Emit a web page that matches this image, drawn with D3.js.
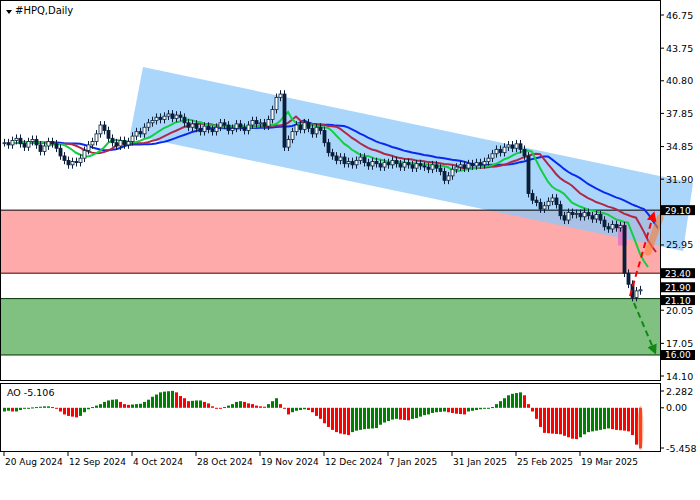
<!DOCTYPE html>
<html><head><meta charset="utf-8">
<script src="https://cdn.jsdelivr.net/npm/d3@7"></script>
<style>body{margin:0;background:#fff}text{font-family:"DejaVu Sans",sans-serif}</style>
</head><body>
<script>
const closes = [35.2,35.0,35.4,35.6,35.1,34.8,35.3,35.5,35.0,34.4,34.9,35.3,35.1,34.7,
  34.0,33.6,33.2,33.5,33.4,33.8, 34.5,35.0,35.3,36.0,36.8,36.3,35.6, 35.2,34.9,35.4,35.0,35.3,
  35.8,36.2,36.0,36.6,37.0, 37.2,37.5,37.3,37.6,37.8,37.4,37.7,37.5, 37.0,36.6,36.9,36.5,36.2,36.7,36.4,
  36.2,36.6,37.0,36.8,36.3,36.5,36.9,36.6, 36.3,36.8,37.2,36.9,37.0,36.7,37.3, 38.2,39.3,39.6, 34.8,35.5,
  36.2,36.8,36.4,37.0,36.5,36.0,36.6,36.3, 35.2,34.3,34.0,33.6,33.9,33.3,
  33.5,33.2,33.6,33.9,33.4,33.1,33.5,33.3,33.0,33.4,33.2,33.6,33.3,33.0,33.4,33.2,32.9,33.3,33.1,
  33.0,32.8,33.2,32.9,32.6,31.8,32.2,32.8,33.0, 33.2,32.9,33.3,33.1,33.4,33.2,33.5,33.8,
  34.2,34.6,34.3,34.8,35.0,34.7,35.1,34.6,34.0, 30.6,30.0,29.8,29.2,29.5,29.9,30.2,29.6,
  28.6,28.2,28.9,28.7,28.8,28.5,28.9,28.6,28.3,28.7,28.2,27.6, 27.4,27.8,27.5,27.7, 23.4, 22.4,21.2,21.8,21.9];
const ao = [-0.5,-0.4,-0.5,-0.5, -0.3,-0.1,-0.05,0.05,0.1,0.15,0.2,0.2, 0.1,-0.1,-0.5,-0.9,-1.1,-1.2,-1.3,
  -1.1,-0.6,-0.2, 0.1,0.3,0.5,0.8,1.0,1.1,1.15, 0.8,0.5,0.4, 0.45,0.5,0.55,0.8,1.1,1.5,1.8,2.1,2.2,2.25,2.3,
  2.1,1.6,1.3,0.9,0.95,1.0,1.0,0.8,0.6,0.2,0.0,-0.1, 0.1,0.3,0.5,0.8,0.9, 0.8,0.6,0.5,0.3,0.2,0.15,
  0.5,0.9,1.3, 0.5,0.0,-0.9, -0.6,-0.4,-0.3,-0.2,-0.3, -0.6,-1.1,-1.5,-2.1,-2.6,-3.0,-3.3,-3.5,-3.6,-3.7,
  -3.3,-3.1,-3.0,-2.9,-2.85,-2.8,-2.75, -2.3,-2.0,-1.8,-1.6,-1.5, -1.6,-1.65,-1.7,
  -1.5,-1.4,-1.2,-1.0,-0.9,-0.7,-0.6,-0.55,-0.5, -0.6,-0.7,-0.8,-0.85,-0.9,
  -0.5,-0.4,-0.3,-0.2,-0.1,0.0,0.1,0.5,0.9,1.3,1.7,1.9,2.0,2.1, 1.7,0.5,
  -0.5,-1.5,-2.6,-3.4,-3.45,-3.5,-3.55,-3.6,-3.8,-4.0,-4.2,-4.25, -4.0,-3.6,-3.3,-3.2,-3.1,-3.0,-2.9,-2.8,
  -2.9,-3.0,-3.05,-3.1,-3.2,-3.7,-5.0,-5.5];
const dateLabels = ["20 Aug 2024","12 Sep 2024","4 Oct 2024","28 Oct 2024","19 Nov 2024","12 Dec 2024","7 Jan 2025","31 Jan 2025","25 Feb 2025","19 Mar 2025"];
const priceTicks = [46.75,43.75,40.80,37.85,34.85,31.90,25.95,20.05,17.05,14.10];
const levels = [29.10,23.40,21.90,21.10,16.00];
const aoTicks = [2.282,0.00,-5.458];

const W = 700, H = 500, R = 660;
const svg = d3.select("body").append("svg").attr("width", W).attr("height", H);
const x = d3.scaleLinear().domain([0, 159]).range([4, 640]);
const y = d3.scaleLinear().domain([14.10, 46.75]).range([376, 15]);
const ya = d3.scaleLinear().domain([-5.458, 2.282]).range([448, 391]);

// zones
svg.append("rect").attr("x",0).attr("y",y(29.10)).attr("width",R).attr("height",y(23.40)-y(29.10)).attr("fill","#ffaaaa");
svg.append("rect").attr("x",0).attr("y",y(21.10)).attr("width",R).attr("height",y(16.00)-y(21.10)).attr("fill","#80c080");
// channel
svg.append("polygon").attr("points",[[143,67],[693,183],[683,251],[130,135]].map(p=>p.join(",")).join(" "))
  .attr("fill","#8cc8f8").attr("opacity",0.75);
[[29.10,"#000"],[23.40,"#400"],[21.10,"#030"],[16.00,"#030"]].forEach(([v,c])=>
  svg.append("line").attr("x1",0).attr("x2",R).attr("y1",y(v)).attr("y2",y(v)).attr("stroke",c));

// alligator
function smma(n){ let s = closes[0]; return closes.map((c,i)=> i? (s = (s*(n-1)+c)/n) : s); }
const plot = svg.append("g");
plot.append("defs").append("clipPath").attr("id","cp").append("rect").attr("width",R-2).attr("height",381);
[[13,6,"#0a28f0"],[8,4,"#b02848"],[5,2,"#10d040"]].forEach(([n,sh,c])=>{
  const v = smma(n);
  plot.append("path").attr("clip-path","url(#cp)")
    .attr("d", d3.line().x((d,i)=>x(i+sh)).y(d=>y(d))(v))
    .attr("fill","none").attr("stroke",c).attr("stroke-width",2);
});

// pink highlight
svg.append("rect").attr("x",x(153.5)).attr("y",y(27.8)).attr("width",9).attr("height",y(25.9)-y(27.8)).attr("fill","#e070c0").attr("opacity",0.8);

// candles
const cd = closes.map((c,i)=>({i, o: i? closes[i-1] : c, c}));
const cg = svg.append("g");
cg.selectAll("line").data(cd).join("line")
  .attr("x1",d=>x(d.i)+0.5).attr("x2",d=>x(d.i)+0.5)
  .attr("y1",d=>y(Math.max(d.o,d.c)+0.35)).attr("y2",d=>y(Math.min(d.o,d.c)-0.35))
  .attr("stroke","#0b1f3a");
cg.selectAll("rect").data(cd).join("rect")
  .attr("x",d=>x(d.i)-1).attr("width",3)
  .attr("y",d=>y(Math.max(d.o,d.c))).attr("height",d=>Math.max(1,Math.abs(y(d.o)-y(d.c))))
  .attr("fill",d=>d.c>=d.o?"#fff":"#0b1f3a").attr("stroke","#0b1f3a").attr("stroke-width",0.8);

// arrows
const defs = svg.append("defs");
[["ar","#ff0000"],["ag","#118811"]].forEach(([id,c])=>defs.append("marker").attr("id",id)
  .attr("viewBox","0 0 10 10").attr("refX",5).attr("refY",5).attr("markerWidth",5).attr("markerHeight",5).attr("orient","auto")
  .append("path").attr("d","M0,0L10,5L0,10z").attr("fill",c));
svg.append("line").attr("x1",648).attr("y1",252).attr("x2",660).attr("y2",218).attr("stroke","#ff8030").attr("stroke-width",7).attr("opacity",0.6).attr("stroke-linecap","round");
svg.append("line").attr("x1",630).attr("y1",296).attr("x2",653).attr("y2",216).attr("stroke","#ff0000").attr("stroke-width",2).attr("stroke-dasharray","6,4").attr("marker-end","url(#ar)");
svg.append("line").attr("x1",634).attr("y1",303).attr("x2",654).attr("y2",350).attr("stroke","#118811").attr("stroke-width",2).attr("stroke-dasharray","6,4").attr("marker-end","url(#ag)");

// frames
svg.append("rect").attr("x",0.5).attr("y",0.5).attr("width",R).attr("height",380).attr("fill","none").attr("stroke","#000");
svg.append("rect").attr("x",0.5).attr("y",383.5).attr("width",R).attr("height",68).attr("fill","none").attr("stroke","#000");

// price axis
const ax = svg.append("g").attr("font-size",9.5);
priceTicks.forEach(t=>{
  ax.append("line").attr("x1",R).attr("x2",R+4).attr("y1",y(t)).attr("y2",y(t)).attr("stroke","#000");
  ax.append("text").attr("x",R+6).attr("y",y(t)+3.5).text(t.toFixed(2));
});
levels.forEach((t,k)=>{
  const yy = k==3 ? y(t)+1.5 : (k==2 ? y(t)-2.5 : y(t));
  ax.append("rect").attr("x",R+1).attr("y",yy-5).attr("width",34).attr("height",10).attr("fill","#000");
  ax.append("text").attr("x",R+5).attr("y",yy+3.5).attr("fill","#fff").attr("font-size",9).text(t.toFixed(2));
});

// title
svg.append("path").attr("d","M6,10L12,10L9,14z").attr("fill","#000");
svg.append("text").attr("x",15).attr("y",14).attr("font-size",10).text("#HPQ,Daily");

// AO
svg.append("g").selectAll("rect").data(ao).join("rect")
  .attr("x",(d,i)=>x(i)-1).attr("width",3)
  .attr("y",d=>Math.min(ya(d),ya(0))).attr("height",d=>Math.max(1,Math.abs(ya(d)-ya(0))))
  .attr("fill",(d,i)=> i && d<ao[i-1] ? "#ff0000" : "#008000");
svg.append("ellipse").attr("cx",x(159)+0.5).attr("cy",(ya(0)+ya(-5.5))/2).attr("rx",3).attr("ry",(ya(-5.5)-ya(0))/2+2).attr("fill","#ff8040").attr("opacity",0.5);
svg.append("text").attr("x",7).attr("y",396).attr("font-size",9.5).text("AO -5.106");
aoTicks.forEach(t=>{
  ax.append("line").attr("x1",R).attr("x2",R+4).attr("y1",ya(t)).attr("y2",ya(t)).attr("stroke","#000");
  ax.append("text").attr("x",R+6).attr("y",ya(t)+3.5).text(t===0?"0.00":t.toFixed(3));
});

// date axis
const dx = svg.append("g").attr("font-size",9);
dateLabels.forEach((l,k)=>{
  const xx = x(k*16);
  dx.append("line").attr("x1",xx).attr("x2",xx).attr("y1",452).attr("y2",456).attr("stroke","#000");
  dx.append("text").attr("x",xx+1).attr("y",465).text(l);
});
</script>
</body></html>
